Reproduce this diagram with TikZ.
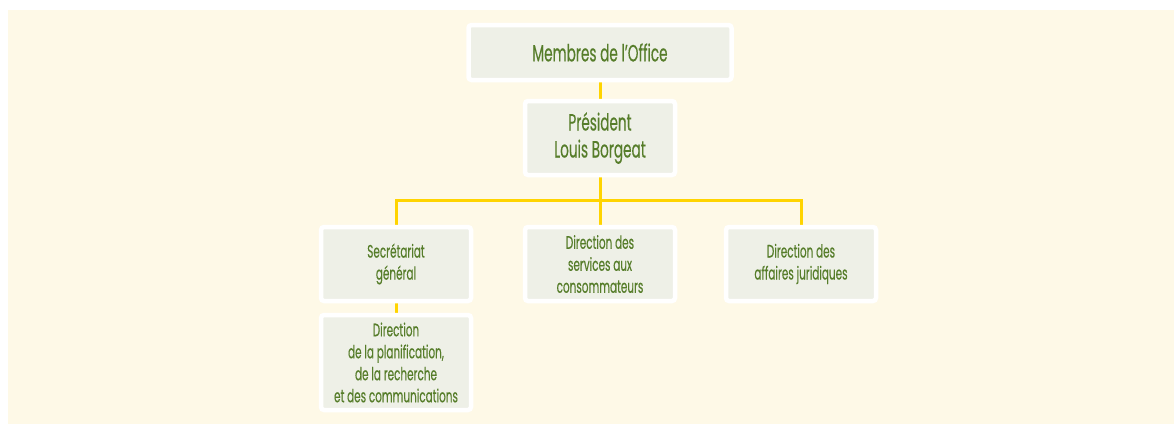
\documentclass[tikz,border=0pt]{standalone}
\usepackage{fontspec}
\setmainfont{Poppins}[FakeStretch=0.58, FakeBold=0.3]
\usepackage{xcolor}
\usepackage{tikz}
\usetikzlibrary{positioning, backgrounds}

\definecolor{panelcream}{HTML}{FEF9E7}
\definecolor{boxgrey}{HTML}{EEF0E7}
\definecolor{leafgreen}{HTML}{567D2A}
\definecolor{linkyellow}{HTML}{FFD400}

\begin{document}
\begin{tikzpicture}[
  x=1pt, y=-1pt,
  unit/.style={
    rectangle,
    rounded corners=3pt,
    draw=white,
    line width=4.5pt,
    fill=boxgrey,
    text=leafgreen,
    align=center,
    inner sep=0pt,
    outer sep=0pt,
    minimum width=150pt,
    minimum height=74pt
  },
  big/.style={font=\fontsize{23.5}{27}\selectfont},
  small/.style={font=\fontsize{18}{22}\selectfont},
  link/.style={draw=linkyellow, line width=3pt}
]
% page and cream panel
\useasboundingbox (0,0) rectangle (1174,424);
\begin{scope}[on background layer]
\fill[panelcream] (8,10) rectangle (1174,424);
\end{scope}

% boxes
\node[unit, big, minimum width=263pt, minimum height=55pt] (office) at (600,52.5) {Membres de l’Office};
\node[unit, big] (president) at (600,138) {Président\\Louis Borgeat};
\node[unit, small] (services) at (600,264) {Direction des\\services aux\\consommateurs};
\node[unit, small, left=54pt of services] (secretariat) {Secrétariat\\général};
\node[unit, small, right=51pt of services] (juridique) {Direction des\\affaires juridiques};
\node[unit, small, minimum height=95pt, below=14pt of secretariat.south, anchor=north] (planif) {Direction\\de la planification,\\de la recherche\\et des communications};

% connectors behind the boxes
\begin{scope}[on background layer]
\draw[link] (office) -- (president);
\draw[link] (president) -- (services);
\coordinate (bar) at (600,200);
\draw[link] (secretariat.center) |- (bar) -| (juridique.center);
\draw[link] (secretariat) -- (planif);
\end{scope}
\end{tikzpicture}
\end{document}
